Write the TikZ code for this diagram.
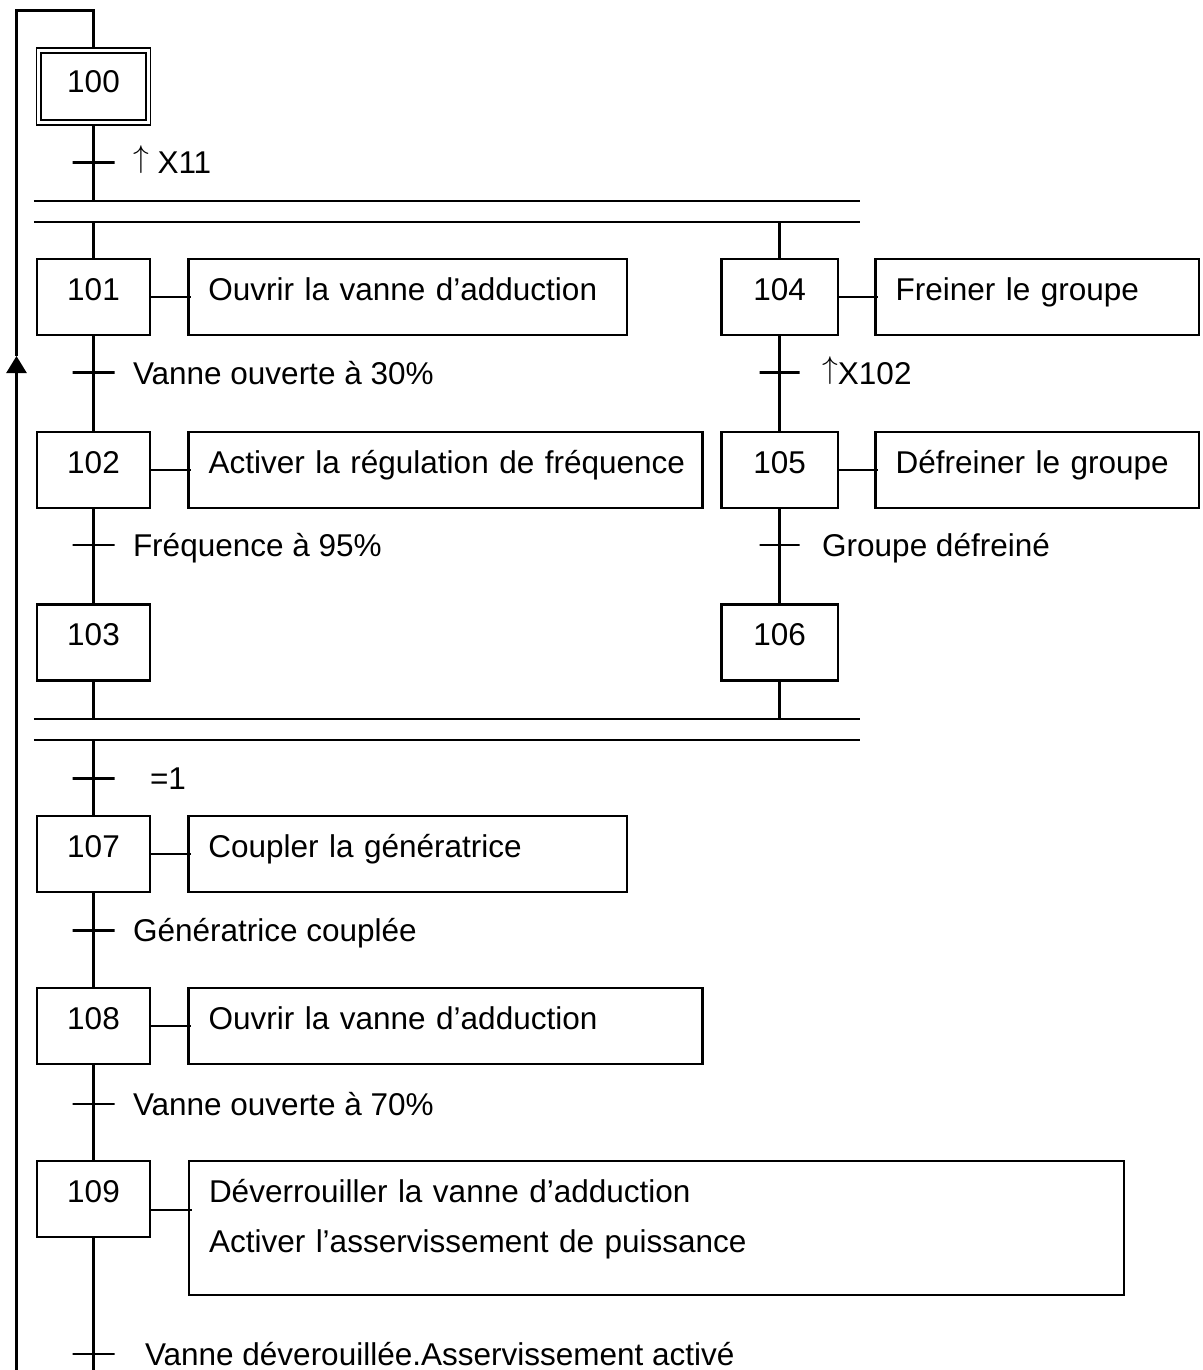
\RequirePackage{fix-cm}
\documentclass[tikz,border=0pt]{standalone}
\usepackage{fontspec}
\setmainfont{Liberation Sans}
\usetikzlibrary{positioning,arrows.meta}
\tikzset{
  etape/.style={draw, minimum width=113pt, minimum height=76pt, inner sep=0pt,
    text height=22.6pt, text depth=16pt},
  init/.style={etape, double, line width=1.8pt, double distance=2.8pt,
    minimum width=109.5pt, minimum height=72pt, text depth=10pt},
  tache/.style={draw, minimum height=76pt, inner xsep=20pt, inner ysep=0pt,
    align=left, text height=22.6pt, text depth=16pt},
  recept/.style={draw, minimum width=42pt, minimum height=0pt, inner sep=0pt},
  cond/.style={inner sep=0pt, text height=22.6pt, text depth=0pt},
  barre/.style={minimum width=823.5pt, minimum height=18.5pt, inner sep=0pt},
  liaison/.style={shorten >=-4pt}
}
\newcommand{\front}{\raisebox{6pt}{$\uparrow$}}
\begin{document}
\begin{tikzpicture}[x=1pt, y=-1pt, line width=2.5pt, font=\fontsize{31.5}{38}\selectfont]
  \useasboundingbox (0,0) rectangle (1202,1370);

  \node[init] (s100) at (93.5,86.5) {100};
  \node[recept] (t100) at (93.5,162.5) {};
  \node[cond, right=16pt of t100] {\front{} X11};
  \node[barre] (div) at (446.75,211.25) {};

  \node[etape] (s101) at (93.5,297) {101};
  \node[tache, text width=398.6pt] (a101) at (407.7,297) {Ouvrir la vanne d’adduction};
  \node[recept] (t101) at (93.5,372.7) {};
  \node[cond, right=16pt of t101] {Vanne ouverte à 30\%};
  \node[etape] (s102) at (93.5,470) {102};
  \node[tache, text width=474pt] (a102) at (445.7,470) {\mbox{Activer la régulation de fréquence}};
  \node[recept] (t102) at (93.5,545) {};
  \node[cond, right=16pt of t102] {Fréquence à 95\%};
  \node[etape] (s103) at (93.5,642.5) {103};

  \node[etape, minimum width=116.6pt] (s104) at (779.7,297) {104};
  \node[tache, text width=283.4pt] (a104) at (1037.3,297) {Freiner le groupe};
  \node[recept, minimum width=40pt] (t104) at (779.7,372.7) {};
  \node[cond, right=20pt of t104] {\front X102};
  \node[etape, minimum width=116.6pt] (s105) at (779.7,470) {105};
  \node[tache, text width=283.4pt] (a105) at (1037.3,470) {Défreiner le groupe};
  \node[recept, minimum width=40pt] (t105) at (779.7,545) {};
  \node[cond, right=20pt of t105] {Groupe défreiné};
  \node[etape, minimum width=116.6pt] (s106) at (779.7,642.5) {106};

  \node[barre] (conv) at (446.75,729.3) {};
  \node[recept] (t106) at (93.5,778.3) {};
  \node[cond, right=33pt of t106] {=1};

  \node[etape] (s107) at (93.5,854) {107};
  \node[tache, text width=398.6pt] (a107) at (407.7,854) {Coupler la génératrice};
  \node[recept] (t107) at (93.5,930.5) {};
  \node[cond, right=16pt of t107] {Génératrice couplée};
  \node[etape] (s108) at (93.5,1026) {108};
  \node[tache, text width=474pt] (a108) at (445.7,1026) {Ouvrir la vanne d’adduction};
  \node[recept] (t108) at (93.5,1104) {};
  \node[cond, right=16pt of t108] {Vanne ouverte à 70\%};
  \node[etape] (s109) at (93.5,1199) {109};
  \node[tache, text width=895pt, minimum height=134pt, text depth=73pt,
    font=\fontsize{31.5}{50}\selectfont] (a109) at (656.5,1228)
    {Déverrouiller la vanne d’adduction\\Activer l’asservissement de puissance};
  \node[recept] (t109) at (93.5,1354) {};
  \node[cond, right=28pt of t109] {Vanne déverouillée.Asservissement activé};

  \coordinate (fin) at (93.5,1370);
  \coordinate (retour) at (16.5,1370);
  \coordinate (fleche) at (16.5,356);
  \coordinate (haut) at (16.5,10.5);
  \coordinate (l109) at ([yshift=-11pt]s109.east);

  \draw (div.north west) -- (div.north east) (div.south west) -- (div.south east);
  \draw (conv.north west) -- (conv.north east) (conv.south west) -- (conv.south east);

  \draw[shorten <=2.3pt] (s100.south) -- (s100 |- div.north);
  \draw (s101.north) -- (s101 |- div.south);
  \draw (s104.north) -- (s104 |- div.south);
  \draw (s101.south) -- (s102.north);
  \draw (s102.south) -- (s103.north);
  \draw (s104.south) -- (s105.north);
  \draw (s105.south) -- (s106.north);
  \draw (s103.south) -- (s103 |- conv.north);
  \draw (s106.south) -- (s106 |- conv.north);
  \draw (s107.north) -- (s107 |- conv.south);
  \draw (s107.south) -- (s108.north);
  \draw (s108.south) -- (s109.north);
  \draw (s109.south) -- (fin);

  \draw[liaison] (s101.east) -- (a101.west);
  \draw[liaison] (s102.east) -- (a102.west);
  \draw[liaison] (s104.east) -- (a104.west);
  \draw[liaison] (s105.east) -- (a105.west);
  \draw[liaison] (s107.east) -- (a107.west);
  \draw[liaison] (s108.east) -- (a108.west);
  \draw[liaison] (l109) -- (l109 -| a109.west);

  \draw[-{Triangle[width=20pt,length=17pt]}] (retour) -- (fleche);
  \draw[shorten >=2.3pt] (fleche) -- (haut) -| (s100.north);
\end{tikzpicture}
\end{document}
